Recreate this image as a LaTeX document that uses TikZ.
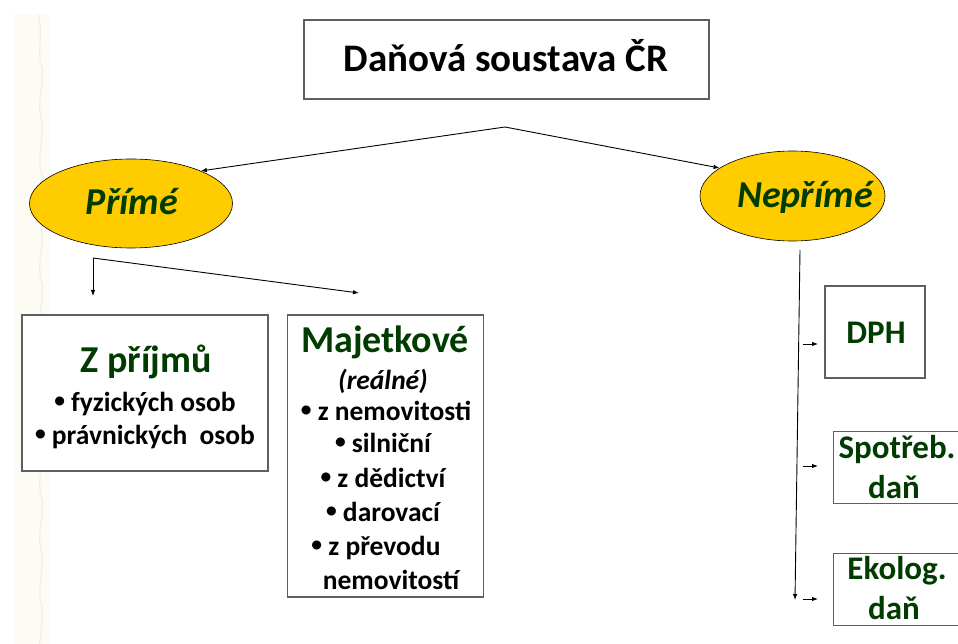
\documentclass[tikz,border=0pt]{standalone}
\usepackage{fontspec}
\usepackage{graphicx}
\setmainfont{Carlito}
\usetikzlibrary{shapes.geometric,arrows.meta}
\definecolor{taxgreen}{RGB}{0,60,0}
\definecolor{gold}{RGB}{255,204,0}
\definecolor{boxgray}{RGB}{95,95,95}
\definecolor{paper}{RGB}{252,252,244}
\definecolor{paperline}{RGB}{240,240,228}
% a slightly smaller list bullet
\newcommand{\listdot}{\raisebox{0.12em}{\scalebox{0.78}{•}}}

\begin{document}
\begin{tikzpicture}[x=1pt,y=-1pt,
  box/.style={draw=boxgray,line width=1.1pt,fill=white,inner sep=0pt},
  oval/.style={ellipse,draw=black,line width=0.6pt,fill=gold,inner sep=0pt},
  link/.style={line width=0.9pt,-{Latex[length=6pt,width=4.5pt]}},
  head/.style={font=\bfseries\fontsize{38}{40}\selectfont,text=taxgreen,anchor=base},
  ovaltext/.style={font=\bfseries\itshape\fontsize{38}{40}\selectfont,text=taxgreen,anchor=base},
  item/.style={font=\bfseries\fontsize{27.5}{30}\selectfont,anchor=base},
  small/.style={font=\bfseries\fontsize{33}{36}\selectfont,text=taxgreen,anchor=base}
]
\useasboundingbox (0,0) rectangle (958,644);
\clip (0,0) rectangle (958,644);

% pale paper strip along the left edge
\fill[paper] (13,14) rectangle (50,644);
\draw[paperline,line width=1.2pt] (38,14)
  \foreach \k in {0,...,11} { .. controls (44,{14+\k*54+18}) and (36,{14+\k*54+36}) .. (42,{14+\k*54+54}) };

% title
\node[box, minimum width=405pt, minimum height=79pt] (title) at (506.5,59.5) {};
\node[font=\bfseries\fontsize{39}{42}\selectfont,anchor=base] (titletext) at (506,72) {Daňová soustava ČR};

% the two kinds of tax
\node[oval, minimum width=203pt, minimum height=89pt] (prime) at (131,203.5) {};
\node[ovaltext] (primetext) at (132,215) {Přímé};
\node[oval, minimum width=185pt, minimum height=90pt] (neprime) at (792.5,196) {};
\node[ovaltext] (neprimetext) at (805,208) {Nepřímé};

\coordinate (split) at (505,127);
\draw[link] (split) -- (prime.25);
\draw[link] (split) -- (neprime.159);

% direct taxes
\node[box, minimum width=246pt, minimum height=156pt] (income) at (145,393) {};
\node[head] (incomehead) at (146,372) {Z příjmů};
\node[item] (inc1) at (145,411) {\listdot\ fyzických osob};
\node[item] (inc2) at (145,444) {\listdot\ právnických\ \ osob};

\node[box, minimum width=196pt, minimum height=282pt] (property) at (385.5,456) {};
\node[head] (prophead) at (385,352) {Majetkové};
\node[item,font=\bfseries\itshape\fontsize{27.5}{30}\selectfont] (prop0) at (383,389) {(reálné)};
\node[item] (prop1) at (386,420) {\listdot\ z nemovitosti};
\node[item] (prop2) at (383,452) {\listdot\ silniční};
\node[item] (prop3) at (383,487) {\listdot\ z dědictví};
\node[item] (prop4) at (383,521) {\listdot\ darovací};
\node[item] (prop5) at (376,555) {\listdot\ z převodu};
\node[item] (prop6) at (391,589) {nemovitostí};

\coordinate (corner) at (93,258);
\coordinate (incin) at (93,296);
\coordinate (propin) at (359,293);
\draw[link] (corner) -- (incin);
\draw[link] (corner) -- (propin);

% indirect taxes
\node[box, minimum width=100pt, minimum height=92pt] (dph) at (875,332) {};
\node[small] (dphtext) at (876,343) {DPH};
\node[box, minimum width=140pt, minimum height=72pt, anchor=north west] (spotreb) at (833,431) {};
\node[small] (sp1) at (897,458) {Spotřeb.};
\node[small] (sp2) at (894,498) {daň};
\node[box, minimum width=140pt, minimum height=72pt, anchor=north west] (ekolog) at (833,553) {};
\node[small] (ek1) at (897,579) {Ekolog.};
\node[small] (ek2) at (894,619) {daň};

\coordinate (spine) at (800,250);
\coordinate (spineend) at (795,600);
\draw[link] (spine) -- (spineend);
\coordinate (t1) at (803,344); \coordinate (h1) at (818,344);
\coordinate (t2) at (803,466); \coordinate (h2) at (818,466);
\coordinate (t3) at (803,599); \coordinate (h3) at (818,599);
\draw[link] (t1) -- (h1);
\draw[link] (t2) -- (h2);
\draw[link] (t3) -- (h3);
\end{tikzpicture}
\end{document}
